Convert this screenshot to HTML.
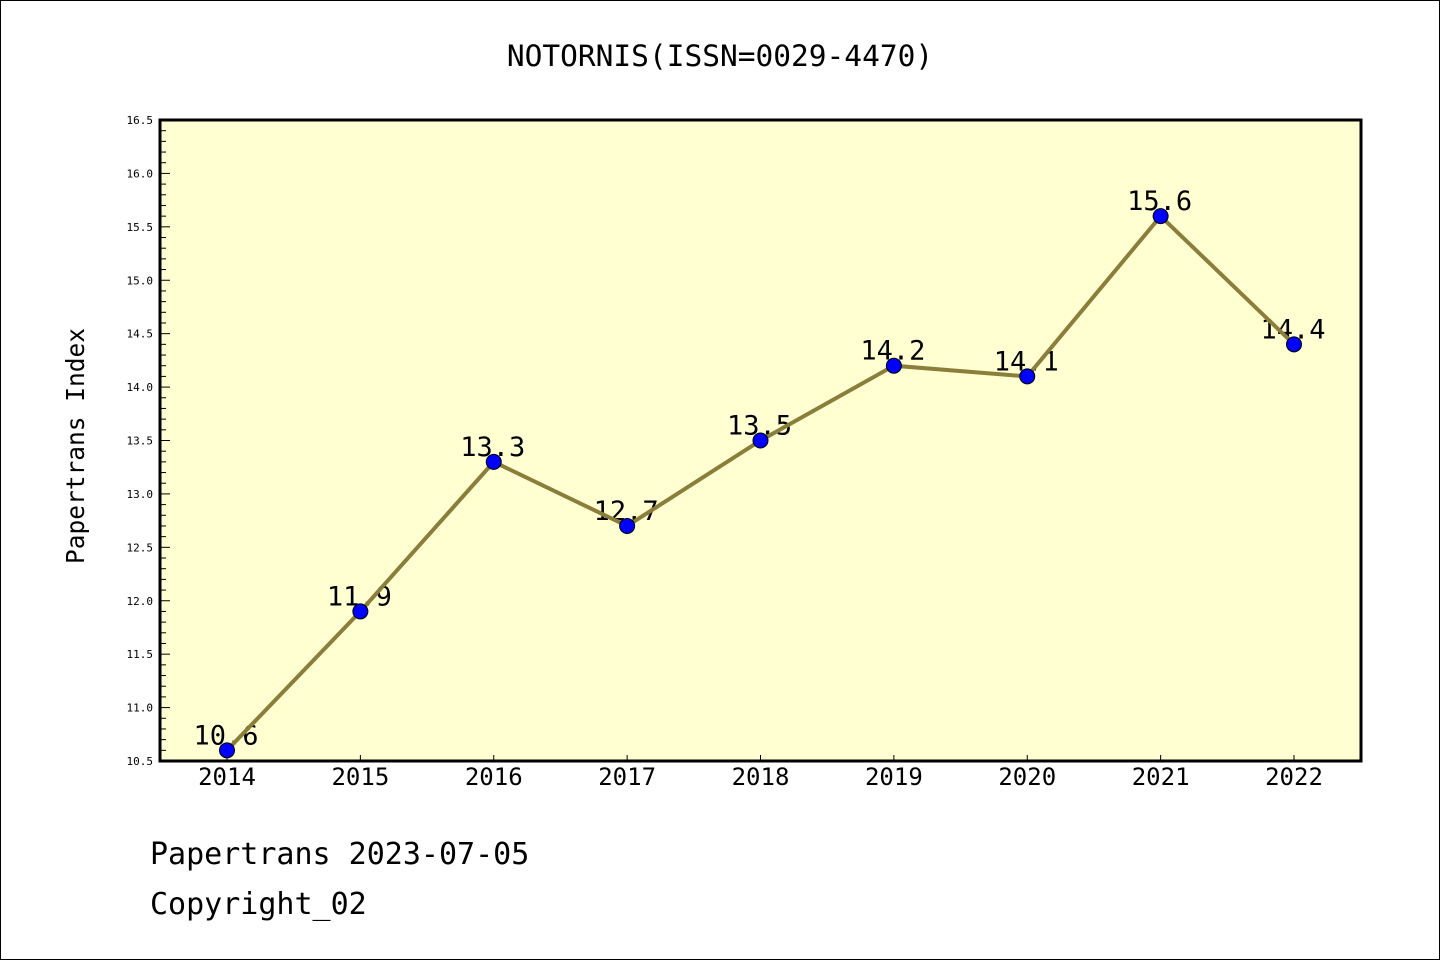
<!DOCTYPE html>
<html><head><meta charset="utf-8"><style>
body{margin:0;background:#fff}
svg{display:block}
text{font-family:"DejaVu Sans Mono","WenQuanYi Zen Hei",monospace}
</style></head><body>
<svg width="1440" height="960">
<rect x="0.5" y="0.5" width="1439" height="959" fill="#fff" stroke="#000"/>
<text x="720" y="66" font-size="29.5" text-anchor="middle">NOTORNIS(ISSN=0029-4470)</text>
<rect x="160" y="120" width="1201" height="641" fill="#ffffd2"/>
<g id="ticks"></g>
<g id="series"></g>
<rect x="160" y="120" width="1201" height="641" fill="none" stroke="#000" stroke-width="3"/>
<text transform="translate(84,446) rotate(-90)" font-size="24.5" text-anchor="middle">Papertrans Index</text>
<text x="150" y="864" font-size="30">Papertrans 2023-07-05</text>
<text x="150" y="914" font-size="30">Copyright_02</text>
</svg>
<script>
const years=[2014,2015,2016,2017,2018,2019,2020,2021,2022];
const values=[10.6,11.9,13.3,12.7,13.5,14.2,14.1,15.6,14.4];
const yTickLabels=["10.5","11.0","11.5","12.0","12.5","13.0","13.5","14.0","14.5","15.0","15.5","16.0","16.5"];
const NS="http://www.w3.org/2000/svg";
const x0=227,dx=133.375,yMin=10.5,yMax=16.5,yTop=120,yBot=761;
const X=i=>x0+i*dx;
const Y=v=>yBot-(v-yMin)/(yMax-yMin)*(yBot-yTop);
function mk(tag,attrs,parent){const e=document.createElementNS(NS,tag);for(const k in attrs)e.setAttribute(k,attrs[k]);parent.appendChild(e);return e;}
const tg=document.getElementById('ticks'),sg=document.getElementById('series');
for(let k=0;k<=60;k++){const v=yMin+k*0.1;const y=Y(v);const major=k%5===0;
 const t=mk('line',{x1:160,x2:160+(major?10:6),y1:y,y2:y,stroke:'#000','stroke-width':1},tg);
 
 }
yTickLabels.forEach(s=>{const t=mk('text',{x:153,y:Y(parseFloat(s))+4,'font-size':11,'text-anchor':'end'},tg);t.textContent=s;
 
 });
years.forEach((yr,i)=>{const l=mk('line',{x1:X(i),x2:X(i),y1:yBot,y2:yBot-6,stroke:'#000'},tg);
 
 
 const t=mk('text',{x:X(i),y:785,'font-size':24,'text-anchor':'middle'},tg);t.textContent=yr;
 
 });
values.forEach((v,i)=>{const t=mk('text',{x:X(i)-1,y:Y(v)-6,'font-size':27,'text-anchor':'middle'},sg);t.textContent=v.toFixed(1);
 
 });
const p=mk('polyline',{points:values.map((v,i)=>X(i)+','+Y(v)).join(' '),fill:'none',stroke:'#8b7d3a','stroke-width':4},sg);


values.forEach((v,i)=>{const c=mk('circle',{cx:X(i),cy:Y(v),r:7.5,fill:'#0000ff',stroke:'#000','stroke-width':1},sg);
 
 });
</script>
</body></html>
